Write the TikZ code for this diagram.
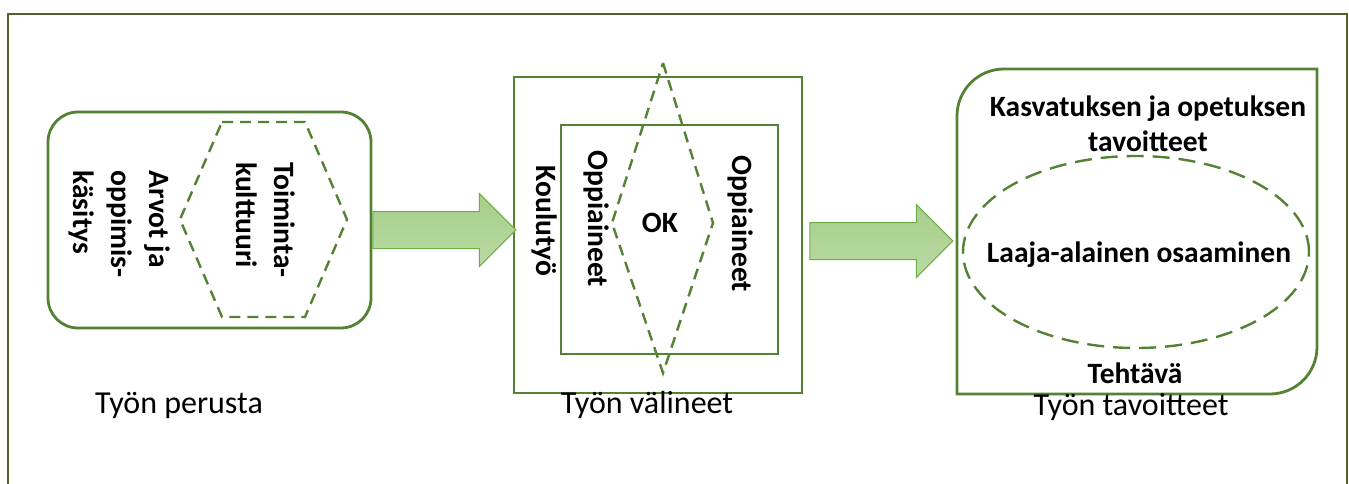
\documentclass[tikz,border=0pt]{standalone}
\usepackage{fontspec}
\setmainfont{Carlito}
\usetikzlibrary{shapes.geometric,shapes.arrows,positioning}

\definecolor{boxgreen}{HTML}{548235}
\definecolor{framegreen}{HTML}{4F6228}
\definecolor{arrowline}{HTML}{70AD47}
\definecolor{arrowtop}{HTML}{A6CE8A}
\definecolor{arrowbottom}{HTML}{B9DBA3}

\def\labelfont{\fontsize{32}{38}\selectfont}
\def\boldfont{\bfseries\fontsize{29.5}{38}\selectfont}

\begin{document}
\begin{tikzpicture}[x=1pt,y=-1pt,line join=miter]
    \tikzstyle{box line}=[draw=boxgreen,line width=2.8pt]
    \tikzstyle{dash line}=[draw=boxgreen,line width=2.4pt,dash pattern=on 11pt off 7pt]
    \tikzstyle{side text}=[rotate=-90,align=left,font=\boldfont,inner sep=0pt]
    \tikzstyle{plain text}=[font=\boldfont,align=center,inner sep=0pt]
    \tikzstyle{caption}=[font=\labelfont,inner sep=0pt]
    \tikzstyle{big arrow}=[single arrow,draw=arrowline,line width=1pt,
        top color=arrowtop,bottom color=arrowbottom,
        minimum height=143pt,minimum width=0pt,inner xsep=0pt,inner ysep=18pt,
        single arrow head extend=18pt,single arrow tip angle=90,anchor=tail]

    \useasboundingbox (0,0) rectangle (1349,484);

    % Draw the outer frame
    \draw[draw=framegreen,line width=1.5pt] (8,490) -- (8,14) -- (1347,14) -- (1347,490);

    % Draw the first group
    \node[box line,rounded corners=30pt,minimum width=323pt,minimum height=216pt]
        (base) at (209.5,220) {};
    \draw[dash line] (222,122) -- (305,122) -- (347,219.5) -- (305,317)
        -- (222,317) -- (180,219.5) -- cycle;
    \node[side text] (culture) at (266,220) {Toiminta-\\kulttuuri};
    \node[side text] (values) at (120,224) {Arvot ja\\oppimis-\\käsitys};
    \node[caption] (base label) at (179,405) {Työn perusta};

    % Draw the second group
    \node[box line,minimum width=288pt,minimum height=316pt] (tools) at (658,235) {};
    \node[box line,minimum width=217pt,minimum height=229pt] (subjects) at (669.5,239.5) {};
    \draw[dash line] (663,63) -- (713,223) -- (663,373) -- (612,223) -- cycle;
    \node[side text] (school) at (545,221) {Koulutyö};
    \node[side text] (left subj) at (597,219) {Oppiaineet};
    \node[side text] (right subj) at (741,224) {Oppiaineet};
    \node[plain text] (ok) at (660,223) {OK};
    \node[caption] (tools label) at (647,405) {Työn välineet};

    % Draw the third group
    \draw[box line] (957,394) -- (957,116) .. controls (957,90) and (978,69) .. (1004,69)
        -- (1317,69) -- (1317,347) .. controls (1317,373) and (1296,394) .. (1270,394)
        -- cycle;
    \node[ellipse,dash line,dash pattern=on 17pt off 9pt,minimum width=346pt,
        minimum height=192pt,inner sep=0pt] (skills ring) at (1136,252) {};
    \node[plain text] (skills) at (1139,255) {Laaja-alainen osaaminen};
    \node[plain text,font=\bfseries\fontsize{29.5}{35}\selectfont] (aims) at (1148,124)
        {Kasvatuksen ja opetuksen\\tavoitteet};
    \node[plain text] (task) at (1135,373) {Tehtävä};
    \node[caption] (goals label) at (1131,407) {Työn tavoitteet};

    % Connect the groups with the block arrows
    \node[big arrow,yshift=-10pt] (arrow one) at (base.east) {};
    \node[big arrow,xshift=6pt,yshift=-6pt] (arrow two) at (tools.east) {};
\end{tikzpicture}
\end{document}
